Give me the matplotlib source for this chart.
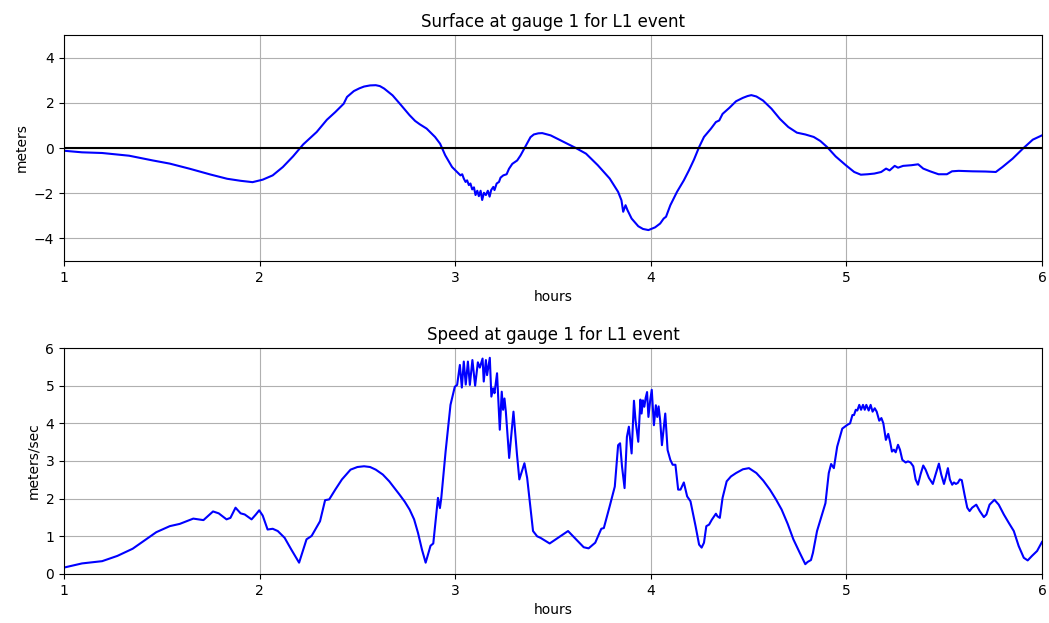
import matplotlib
matplotlib.use("Agg")
import matplotlib.pyplot as plt

# Surface elevation (hours, meters)
surf_hours = [1.0, 1.092, 1.195, 1.333, 1.454, 1.541, 1.644, 1.748, 1.834, 1.903, 1.964,
              2.016, 2.067, 2.119, 2.171, 2.223, 2.292, 2.344, 2.387, 2.430, 2.447, 2.482,
              2.510, 2.534, 2.565, 2.594, 2.615, 2.637, 2.680, 2.724, 2.767, 2.795, 2.819,
              2.854, 2.897, 2.923, 2.949,
              2.984, 3.010, 3.027, 3.036, 3.044, 3.053, 3.061, 3.070, 3.078, 3.087, 3.096,
              3.104, 3.113, 3.121, 3.130, 3.138, 3.147, 3.157, 3.167, 3.176, 3.184, 3.195,
              3.201, 3.212, 3.224, 3.232, 3.246, 3.263, 3.275, 3.292, 3.317, 3.334, 3.367,
              3.385, 3.402, 3.425, 3.445, 3.488, 3.557, 3.617, 3.669, 3.729, 3.790, 3.833, 3.850, 3.859,
              3.871, 3.881, 3.902, 3.936, 3.960, 3.988, 4.022, 4.048, 4.066, 4.078, 4.100, 4.134,
              4.169, 4.195, 4.221, 4.247, 4.272, 4.307, 4.333, 4.350, 4.367, 4.402, 4.436,
              4.471, 4.495, 4.514, 4.540, 4.574, 4.617, 4.660, 4.703, 4.747, 4.790, 4.833, 4.867,
              4.902, 4.945, 4.997, 5.040, 5.074, 5.109, 5.143, 5.178, 5.203, 5.221, 5.247,
              5.264, 5.290, 5.333, 5.367, 5.393, 5.428, 5.471, 5.514, 5.540, 5.574, 5.643,
              5.712, 5.764, 5.798, 5.850, 5.902, 5.953, 6.0]
surf_values = [-0.12, -0.19, -0.22, -0.34, -0.55, -0.69, -0.92, -1.17, -1.36, -1.45, -1.51,
               -1.40, -1.21, -0.84, -0.37, 0.16, 0.71, 1.25, 1.59, 1.96, 2.26, 2.52,
               2.64, 2.72, 2.77, 2.78, 2.74, 2.63, 2.33, 1.89, 1.45, 1.20, 1.05,
               0.86, 0.49, 0.19, -0.32,
               -0.84, -1.06, -1.21, -1.16, -1.35, -1.50, -1.43, -1.64, -1.57, -1.83, -1.74,
               -2.08, -1.89, -2.13, -1.89, -2.30, -1.98, -2.08, -1.89, -2.15, -1.86, -1.72,
               -1.86, -1.57, -1.50, -1.31, -1.21, -1.16, -0.92, -0.70, -0.55, -0.33, 0.19,
               0.48, 0.60, 0.65, 0.66, 0.56, 0.26, 0.0, -0.25, -0.76, -1.35, -1.94, -2.31, -2.82,
               -2.53, -2.75, -3.12, -3.46, -3.58, -3.63, -3.51, -3.34, -3.12, -3.04, -2.53, -1.94,
               -1.43, -0.99, -0.51, 0.04, 0.49, 0.85, 1.15, 1.22, 1.51, 1.78, 2.07,
               2.22, 2.30, 2.34, 2.28, 2.10, 1.74, 1.29, 0.93, 0.68, 0.60, 0.49, 0.31,
               0.04, -0.37, -0.76, -1.06, -1.18, -1.16, -1.13, -1.06, -0.91, -0.99, -0.79,
               -0.87, -0.79, -0.76, -0.72, -0.91, -1.03, -1.16, -1.16, -1.03, -1.01, -1.03,
               -1.04, -1.06, -0.84, -0.47, -0.03, 0.37, 0.56]

# Speed (hours, meters/sec)
speed_hours = [1.0, 1.092, 1.195, 1.273, 1.351, 1.420, 1.472, 1.541, 1.592, 1.661, 1.713,
               1.762, 1.791, 1.831, 1.851, 1.877, 1.903, 1.924, 1.959, 1.981, 1.998, 2.016,
               2.041, 2.067, 2.093, 2.128, 2.162, 2.202, 2.218, 2.240, 2.266, 2.309, 2.335,
               2.356, 2.387, 2.421, 2.465, 2.500, 2.534, 2.565, 2.594, 2.630, 2.663, 2.715,
               2.742, 2.767, 2.790, 2.810, 2.830, 2.849,
               2.874, 2.888, 2.912, 2.922, 2.929, 2.951, 2.976, 2.998, 3.010, 3.024, 3.034,
               3.044, 3.054, 3.065, 3.075, 3.088, 3.102, 3.116, 3.126, 3.140, 3.146, 3.157,
               3.163, 3.177, 3.185, 3.194, 3.201, 3.214, 3.228, 3.238, 3.245, 3.252, 3.259,
               3.276, 3.298, 3.316, 3.328, 3.354, 3.368, 3.398, 3.419, 3.436, 3.483, 3.577,
               3.657, 3.682, 3.716, 3.747, 3.760, 3.790, 3.816, 3.833, 3.843, 3.853, 3.866,
               3.878, 3.888, 3.902, 3.914, 3.922, 3.936, 3.947, 3.953, 3.960, 3.967, 3.974,
               3.981, 3.988, 3.997, 4.005, 4.016, 4.026, 4.033, 4.040, 4.048, 4.057, 4.074,
               4.086, 4.100, 4.112, 4.126, 4.140, 4.152, 4.169, 4.186, 4.203, 4.229, 4.247,
               4.260, 4.272, 4.284, 4.298, 4.312, 4.333, 4.341, 4.353, 4.367, 4.388, 4.410,
               4.436, 4.471, 4.502, 4.540, 4.575, 4.609, 4.640, 4.669, 4.700, 4.729, 4.760,
               4.790, 4.802, 4.819, 4.829,
               4.850, 4.893, 4.910, 4.922, 4.936, 4.953, 4.979, 5.005, 5.019, 5.031, 5.039,
               5.048, 5.056, 5.066, 5.075, 5.085, 5.094, 5.102, 5.114, 5.124, 5.134, 5.145,
               5.155, 5.168, 5.179, 5.189, 5.202, 5.214, 5.223, 5.233, 5.243, 5.252, 5.264,
               5.274, 5.286, 5.303, 5.315, 5.328, 5.342, 5.354, 5.366, 5.379, 5.393, 5.405,
               5.422, 5.442, 5.456, 5.473, 5.485, 5.499, 5.509, 5.519, 5.529, 5.541, 5.550,
               5.560, 5.570, 5.580, 5.590, 5.604, 5.618, 5.630, 5.643, 5.664, 5.682, 5.703,
               5.716, 5.732, 5.757, 5.779, 5.805, 5.830, 5.856, 5.881, 5.907, 5.927, 5.949,
               5.975, 6.0]
speed_values = [0.17, 0.28, 0.34, 0.48, 0.67, 0.92, 1.11, 1.27, 1.33, 1.47, 1.43,
                1.66, 1.61, 1.45, 1.49, 1.76, 1.61, 1.58, 1.45, 1.58, 1.69, 1.55,
                1.18, 1.20, 1.14, 0.96, 0.65, 0.30, 0.56, 0.92, 1.01, 1.40, 1.96,
                1.98, 2.24, 2.51, 2.77, 2.84, 2.86, 2.84, 2.77, 2.64, 2.46, 2.11,
                1.92, 1.71, 1.45, 1.09, 0.65, 0.30,
                0.75, 0.81, 2.02, 1.75, 2.02, 3.25, 4.49, 4.97, 5.02, 5.55, 4.95,
                5.64, 5.03, 5.64, 5.02, 5.68, 5.00, 5.62, 5.48, 5.72, 5.11, 5.68,
                5.28, 5.74, 4.71, 4.93, 4.80, 5.33, 3.83, 4.84, 4.36, 4.66, 4.31,
                3.08, 4.31, 3.17, 2.51, 2.94, 2.55, 1.14, 1.00, 0.96, 0.81, 1.14,
                0.71, 0.68, 0.83, 1.20, 1.22, 1.80, 2.32, 3.42, 3.47, 2.85, 2.28,
                3.64, 3.91, 3.20, 4.60, 4.08, 3.51, 4.63, 4.26, 4.61, 4.44, 4.68,
                4.83, 4.17, 4.61, 4.89, 3.95, 4.48, 4.17, 4.45, 4.08, 3.42, 4.26,
                3.29, 3.03, 2.90, 2.90, 2.24, 2.24, 2.43, 2.06, 1.93, 1.27, 0.78,
                0.70, 0.83, 1.27, 1.31, 1.44, 1.60, 1.53, 1.49, 2.02, 2.46, 2.59,
                2.68, 2.78, 2.81, 2.68, 2.48, 2.24, 1.98, 1.71, 1.33, 0.92, 0.58,
                0.26, 0.32, 0.37, 0.56,
                1.14, 1.88, 2.68, 2.92, 2.81, 3.38, 3.86, 3.96, 4.00, 4.22, 4.22,
                4.36, 4.34, 4.49, 4.36, 4.49, 4.36, 4.49, 4.34, 4.49, 4.31, 4.40,
                4.31, 4.07, 4.14, 4.00, 3.56, 3.72, 3.52, 3.25, 3.30, 3.23, 3.43,
                3.30, 3.03, 2.96, 2.99, 2.96, 2.86, 2.51, 2.37, 2.64, 2.88, 2.77,
                2.55, 2.39, 2.64, 2.93, 2.64, 2.39, 2.59, 2.81, 2.51, 2.37, 2.43,
                2.39, 2.42, 2.51, 2.49, 2.11, 1.76, 1.67, 1.76, 1.84, 1.67, 1.51,
                1.58, 1.84, 1.97, 1.84, 1.58, 1.36, 1.14, 0.74, 0.43, 0.36, 0.48,
                0.61, 0.85]

x_ticks = [1, 2, 3, 4, 5, 6]
surf_yticks = [-4, -2, 0, 2, 4]
speed_yticks = [0, 1, 2, 3, 4, 5, 6]

fig = plt.figure(figsize=(10.49, 6.23), dpi=100)
ax1 = fig.add_axes([0.061, 0.581, 0.9323, 0.3628])
ax2 = fig.add_axes([0.061, 0.0787, 0.9323, 0.3627])

ax1.plot(surf_hours, surf_values, color='b', lw=1.5)
ax1.axhline(0, color='k', lw=1.5)
ax1.set_xlim(1, 6)
ax1.set_ylim(-5, 5)
ax1.set_xticks(x_ticks)
ax1.set_yticks(surf_yticks)
ax1.grid(True)
ax1.set_title("Surface at gauge 1 for L1 event")
ax1.set_xlabel("hours")
ax1.set_ylabel("meters")

ax2.plot(speed_hours, speed_values, color='b', lw=1.5)
ax2.set_xlim(1, 6)
ax2.set_ylim(0, 6)
ax2.set_xticks(x_ticks)
ax2.set_yticks(speed_yticks)
ax2.grid(True)
ax2.set_title("Speed at gauge 1 for L1 event")
ax2.set_xlabel("hours")
ax2.set_ylabel("meters/sec")

fig.savefig("out.png", dpi=100)
